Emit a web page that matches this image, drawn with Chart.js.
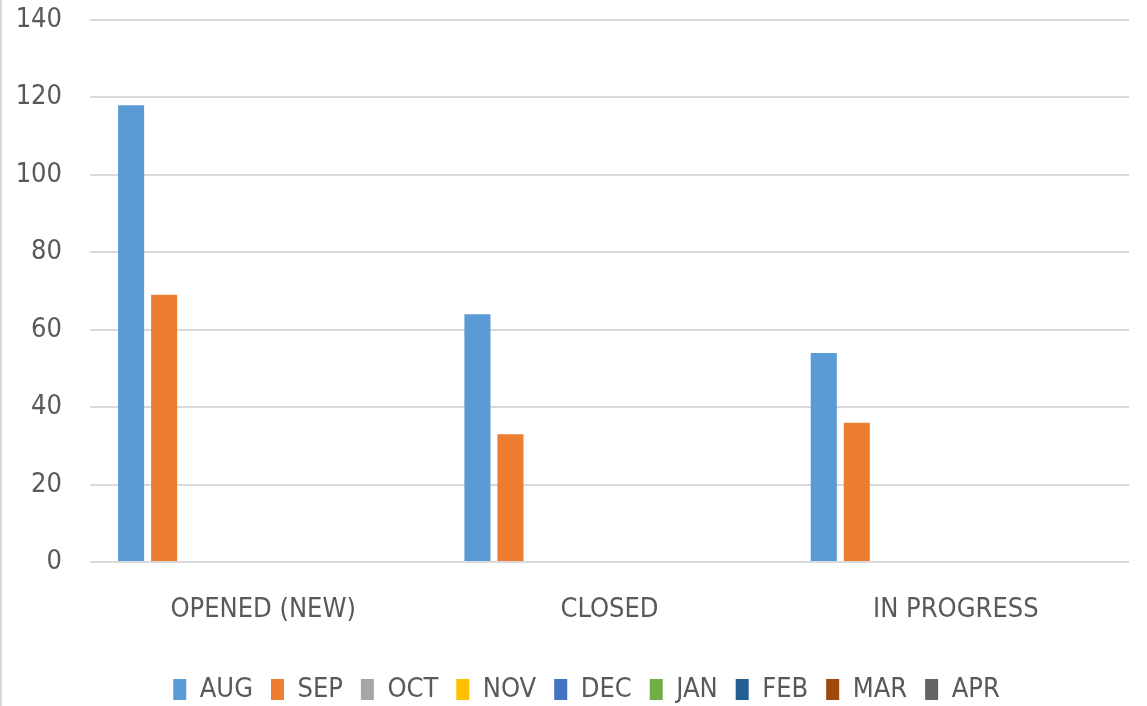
<!DOCTYPE html>
<html lang="en">
  <head>
    <meta charset="UTF-8" />
    <script src="https://cdn.jsdelivr.net/npm/chart.js"></script>
    <style>
      body {
        margin: 0;
        background: #ffffff;
      }
      #wrap {
        width: 1147px;
        height: 706px;
        position: relative;
      }
    </style>
  </head>
  <body>
    <div id="wrap"><canvas id="statusChart"></canvas></div>

    <script>
      // categories and monthly series
      const categories = ["OPENED (NEW)", "CLOSED", "IN PROGRESS"];
      const months = ["AUG", "SEP", "OCT", "NOV", "DEC", "JAN", "FEB", "MAR", "APR"];
      const aug = [118, 64, 54];
      const sep = [69, 33, 36];
      const oct = [null, null, null];
      const nov = [null, null, null];
      const dec = [null, null, null];
      const jan = [null, null, null];
      const feb = [null, null, null];
      const mar = [null, null, null];
      const apr = [null, null, null];
      const yTicks = [0, 20, 40, 60, 80, 100, 120, 140];

      const seriesValues = [aug, sep, oct, nov, dec, jan, feb, mar, apr];
      const colors = [
        "#5B9BD5", "#ED7D31", "#A5A5A5", "#FFC000", "#4472C4",
        "#70AD47", "#255E91", "#9E480E", "#636363",
      ];

      const font = { family: "'DejaVu Sans Condensed', 'DejaVu Sans', sans-serif", size: 27 };
      Chart.defaults.color = "#595959";

      // thin grey frame on the left like the original chart box
      const frame = {
        id: "frame",
        afterLayout(chart) {
          // legend sits a little right of centre in the original
          chart.legend.left += 22;
          chart.legend.right += 22;
        },
        beforeDraw(chart) {
          const c = chart.ctx;
          c.save();
          c.fillStyle = "#d9d9d9";
          c.fillRect(0, 0, 2, chart.height);
          c.restore();
        },
      };

      new Chart(document.getElementById("statusChart"), {
        type: "bar",
        data: {
          labels: categories,
          datasets: months.map((m, i) => ({
            label: m,
            data: seriesValues[i],
            backgroundColor: colors[i],
            categoryPercentage: 0.858,
            barPercentage: 0.79,
          })),
        },
        options: {
          responsive: true,
          maintainAspectRatio: false,
          animation: false,
          layout: { padding: { left: 0, right: 18, top: 20, bottom: -7 } },
          plugins: {
            tooltip: { enabled: false },
            legend: {
              position: "bottom",
              labels: { font: font, boxWidth: 13, boxHeight: 21, padding: 18 },
            },
          },
          scales: {
            x: {
              grid: { display: false },
              border: { display: false },
              ticks: { font: font, padding: 24, maxRotation: 0 },
              afterFit(scale) {
                scale.height = 96;
              },
            },
            y: {
              min: 0,
              max: 140,
              afterBuildTicks(scale) {
                scale.ticks = yTicks.map((v) => ({ value: v }));
              },
              grid: { color: "#d9d9d9", lineWidth: 2, drawTicks: false },
              border: { display: false },
              ticks: { font: font, padding: 28 },
              afterFit(scale) {
                scale.width = 90;
                scale.paddingTop = 0;
                scale.paddingBottom = 0;
              },
            },
          },
        },
        plugins: [frame],
      });
    </script>
  </body>
</html>
